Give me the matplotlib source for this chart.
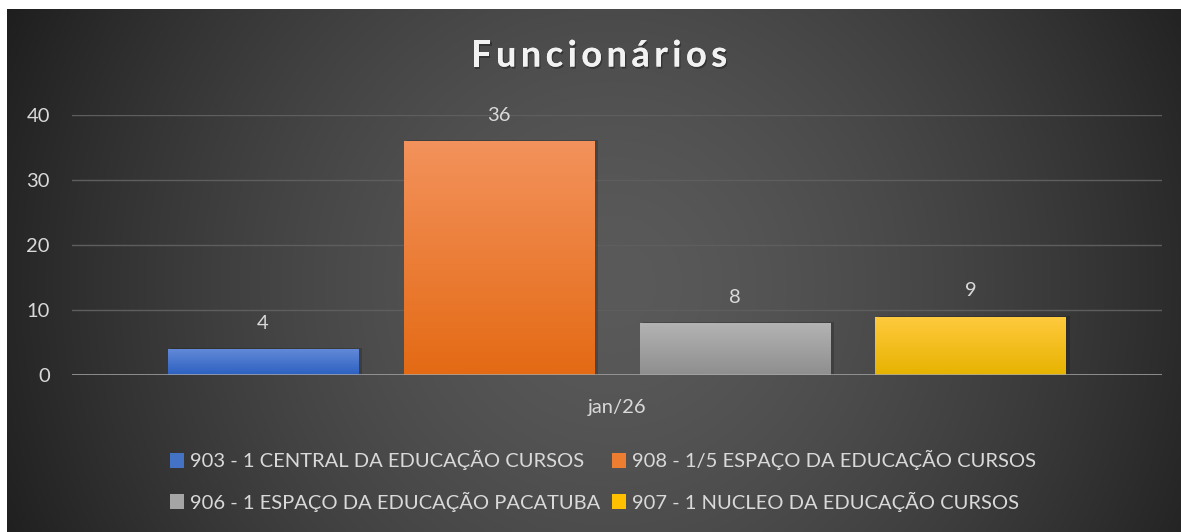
import numpy as np
import matplotlib.pyplot as plt
from matplotlib.colors import LinearSegmentedColormap
from matplotlib.patches import Rectangle
import matplotlib.patheffects as pe

# ---- data ----
categories = ['jan/26']
series = ['903 - 1 CENTRAL DA EDUCAÇÃO CURSOS',
          '908 - 1/5 ESPAÇO DA EDUCAÇÃO CURSOS',
          '906 - 1 ESPAÇO DA EDUCAÇÃO PACATUBA',
          '907 - 1 NUCLEO DA EDUCAÇÃO CURSOS']
values = [4, 36, 8, 9]
yticks = [0, 10, 20, 30, 40]
title = 'Funcionários'

# gradient colours per series (top, bottom)
grad_colors = [('#6189d8', '#2d60c0'),
               ('#f3925c', '#e46a14'),
               ('#b3b3b3', '#8e8e8e'),
               ('#ffca3e', '#e7b300')]
legend_colors = ['#4472c4', '#ed7d31', '#a5a5a5', '#ffc000']

plt.rcParams['font.family'] = ['Lato', 'DejaVu Sans']
txt = '#d9d9d9'
fs = 14.5

W, H = 1181, 532
fig = plt.figure(figsize=(W / 100, H / 100), dpi=100)
fig.patch.set_facecolor('white')

# background chart area with radial gradient
bg = fig.add_axes([7 / W, 0, 1 - 7 / W, 1 - 9 / H])
bg.axis('off')
hh, ww = H - 9, W - 7
yy, xx = np.mgrid[0:hh, 0:ww]
cx, cy = 605, 275
r = np.hypot(xx - cx, yy - cy) / 660.0
v = 90 - 59 * np.clip(r, 0, 1.3) ** 1.5
v = np.clip(v, 28, 92) / 255.0
img = np.dstack([v, v, v])
bg.imshow(img, extent=[0, ww, hh, 0], aspect='auto', interpolation='bilinear')
bg.set_xlim(0, ww)
bg.set_ylim(hh, 0)

# plot axes
left, right, y0, y40 = 72, 1162, 375, 115
ax = fig.add_axes([left / W, (H - y0) / H, (right - left) / W, (y0 - y40) / H])
ax.patch.set_alpha(0)
for s in ax.spines.values():
    s.set_visible(False)

n = len(series)
step = 0.2165
width = 0.1752
xs = [(i - (n - 1) / 2) * step for i in range(n)]

handles = []
for i in range(n):
    x, val = xs[i], values[i]
    # shadow
    ax.add_patch(Rectangle((x - width / 2 + 0.003, 0), width, val + 0.15,
                           facecolor='black', alpha=0.18, zorder=2, linewidth=0))
    b = ax.bar(x, val, width, color=legend_colors[i], zorder=3, linewidth=0)[0]
    cmap = LinearSegmentedColormap.from_list('g%d' % i, [grad_colors[i][1], grad_colors[i][0]])
    grad = np.linspace(0, 1, 256).reshape(-1, 1)
    im = ax.imshow(grad, extent=[x - width / 2, x + width / 2, 0, val], origin='lower',
                   aspect='auto', cmap=cmap, zorder=3.5)
    im.set_clip_path(b)
    ax.annotate(str(val), (x, val), xytext=(0, 18.5), textcoords='offset points',
                ha='center', va='center', color=txt, fontsize=fs)
    handles.append(Rectangle((0, 0), 1, 1, facecolor=legend_colors[i], linewidth=0))

ax.set_xlim(-0.5, 0.5)
ax.set_ylim(0, 40)
ax.set_yticks(yticks)
ax.set_yticklabels([str(t) for t in yticks])
ax.grid(axis='y', color='#5e5e5e', linewidth=1.0, zorder=0)
ax.set_axisbelow(True)
ax.axhline(0, color='#a6a6a6', linewidth=1.8, zorder=4)
ax.set_xticks([0])
ax.set_xticklabels(categories)
ax.tick_params(axis='both', length=0, colors=txt, labelsize=fs)
ax.tick_params(axis='y', pad=16)
ax.tick_params(axis='x', pad=17)

# title with letter spacing
renderer = fig.canvas.get_renderer()
tx0, tx1, ty = 471, 727, 56
objs, widths = [], []
for ch in title:
    t = fig.text(0, 1 - ty / H, ch, ha='left', va='center', color='#f2f2f2',
                 fontsize=26, fontweight='bold')
    objs.append(t)
    widths.append(t.get_window_extent(renderer).width)
gap = (tx1 - tx0 - sum(widths)) / (len(title) - 1)
xpos = tx0
for t, w_ in zip(objs, widths):
    t.set_x(xpos / W)
    t.set_path_effects([pe.withSimplePatchShadow(offset=(1, -1.5), shadow_rgbFace='black',
                                                 alpha=0.3), pe.Normal()])
    xpos += w_ + gap

# legend
order = [0, 2, 1, 3]
leg = fig.legend([handles[i] for i in order], [series[i] for i in order], ncol=2,
                 loc='center', bbox_to_anchor=(603 / W, 1 - 481 / H), frameon=False,
                 fontsize=fs, labelcolor=txt, handlelength=0.72, handleheight=0.72,
                 handletextpad=0.3, columnspacing=0.55, labelspacing=1.05)

fig.savefig('out.png', dpi=100, facecolor='white')
